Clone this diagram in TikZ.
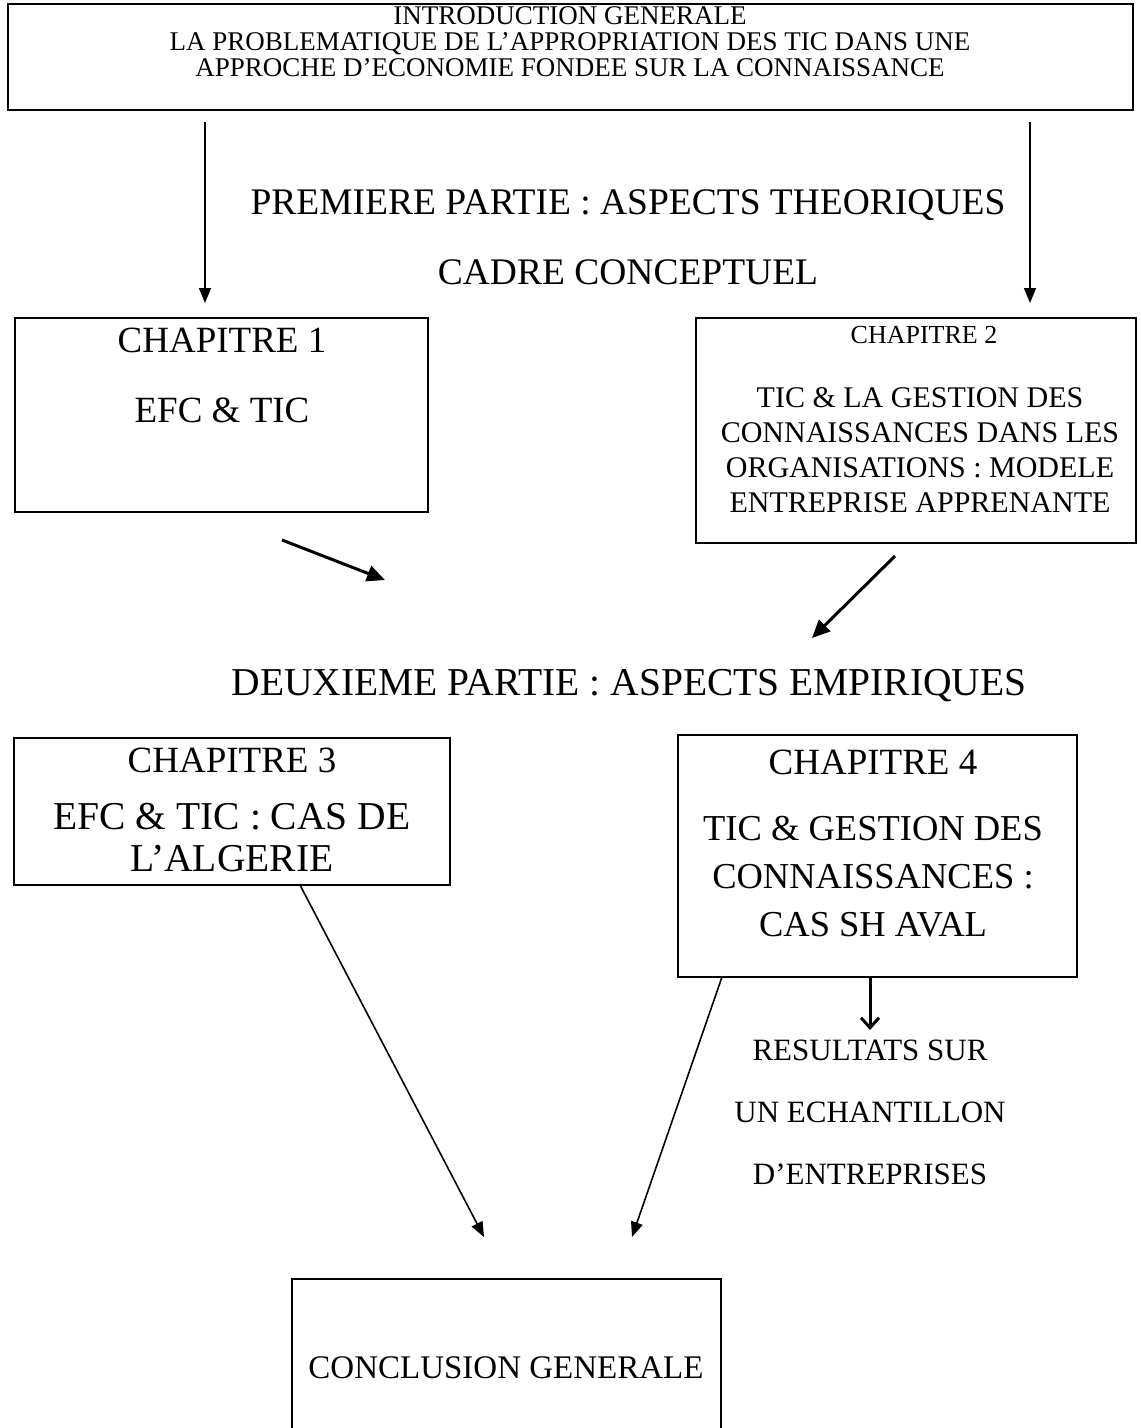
\documentclass[tikz,border=0pt]{standalone}
\usepackage{fontspec}
\setmainfont{Liberation Serif}
\usetikzlibrary{arrows.meta}
\begin{document}
\begin{tikzpicture}[x=1pt,y=-1pt,
  box/.style={draw, line width=2.5pt, inner sep=0pt, outer sep=0pt},
  txt/.style={inner sep=0pt, align=center},
  big/.style={txt, font=\fontsize{37}{42}\selectfont},
  mid/.style={txt, font=\fontsize{30}{35}\selectfont},
  small/.style={txt, font=\fontsize{26}{28}\selectfont},
  thin/.style={line width=1.6pt, -{Triangle[length=15pt,width=12pt]}},
  thick/.style={line width=3pt, -{Triangle[length=18pt,width=16pt]}},
  barb/.style={line width=3pt, -{Straight Barb[length=10pt,width=18pt,line width=3pt]}}
]
\useasboundingbox (0,0) rectangle (1141,1428);
\clip (0,0) rectangle (1141,1428);

% frames
\node[box, minimum width=1125, minimum height=106] (intro) at (570.5,57) {};
\node[box, minimum width=413, minimum height=194] (ch1) at (221.5,415) {};
\node[box, minimum width=440, minimum height=225] (ch2) at (916,430.5) {};
\node[box, minimum width=436, minimum height=147] (ch3) at (232,811.5) {};
\node[box, minimum width=399, minimum height=242] (ch4) at (877.5,856) {};
\node[box, minimum width=429, minimum height=181] (concl) at (506.5,1369.5) {};

% texts
\node[txt, font=\fontsize{27}{26}\selectfont] (introtxt) at (570,42)
  {INTRODUCTION GENERALE\\LA PROBLEMATIQUE DE L’APPROPRIATION DES TIC DANS UNE\\APPROCHE D’ECONOMIE FONDEE SUR LA CONNAISSANCE};
\node[big, font=\fontsize{37.5}{42}\selectfont] (part1) at (628,205) {PREMIERE PARTIE : ASPECTS THEORIQUES};
\node[big, font=\fontsize{37.5}{42}\selectfont] (cadre) at (628,272) {CADRE CONCEPTUEL};

\node[big] (ch1t) at (222,340) {CHAPITRE 1};
\node[big] (ch1b) at (222,410) {EFC \& TIC};

\node[small] (ch2t) at (924,335) {CHAPITRE 2};
\node[mid] (ch2b) at (920,450) {TIC \& LA GESTION DES\\CONNAISSANCES DANS LES\\ORGANISATIONS : MODELE\\ENTREPRISE APPRENANTE};

\node[big, font=\fontsize{39.5}{42}\selectfont] (part2) at (629,686) {DEUXIEME PARTIE : ASPECTS EMPIRIQUES};

\node[big] (ch3t) at (232,760) {CHAPITRE 3};
\node[big, font=\fontsize{39.5}{42}\selectfont] (ch3b) at (232,838) {EFC \& TIC : CAS DE\\L’ALGERIE};

\node[big] (ch4t) at (873,762) {CHAPITRE 4};
\node[big, font=\fontsize{36.5}{48}\selectfont] (ch4b) at (873,877) {TIC \& GESTION DES\\CONNAISSANCES :\\CAS SH AVAL};

\node[txt, font=\fontsize{31}{62}\selectfont] (res) at (870,1112) {RESULTATS SUR\\UN ECHANTILLON\\D’ENTREPRISES};

\node[txt, font=\fontsize{33}{40}\selectfont] (concltxt) at (506,1368) {CONCLUSION GENERALE};

% connector end points
\coordinate (xl) at (205,0);
\coordinate (xr) at (1030,0);
\coordinate (d1s) at (282,540);
\coordinate (d1e) at (385,580);
\coordinate (d2s) at (895,556);
\coordinate (d2e) at (812,638);
\coordinate (x4) at (870,0);
\coordinate (resarr) at (870,1030);
\coordinate (c3s) at (300,885);
\coordinate (c3e) at (484,1237);
\coordinate (c4s) at (722,977);
\coordinate (c4e) at (632,1237);

% connectors
\draw[thin, shorten <=12pt, shorten >=15pt] (intro.south -| xl) -- (ch1.north -| xl);
\draw[thin, shorten <=12pt, shorten >=15pt] (intro.south -| xr) -- (ch2.north -| xr);
\draw[thick] (d1s) -- (d1e);
\draw[thick] (d2s) -- (d2e);
\draw[barb] (ch4.south -| x4) -- (resarr);
\draw[thin] (c3s) -- (c3e);
\draw[thin] (c4s) -- (c4e);
\end{tikzpicture}
\end{document}
